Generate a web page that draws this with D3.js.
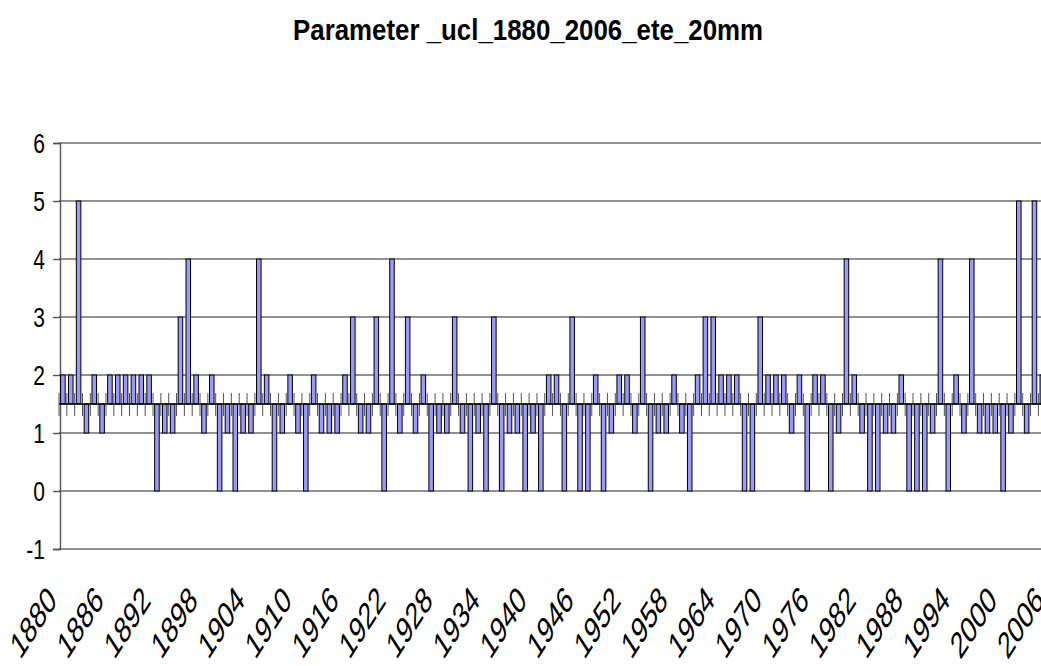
<!DOCTYPE html>
<html><head><meta charset="utf-8">
<script src="https://cdn.jsdelivr.net/npm/d3@7"></script>
<style>
html,body{margin:0;padding:0;background:#fff;overflow:hidden}
svg{display:block}
text{font-family:"Liberation Sans",Arial,sans-serif;fill:#000}
</style></head><body>
<svg id="c" width="1041" height="666"></svg>
<script>
const chartTitle = "Parameter _ucl_1880_2006_ete_20mm";
const years = d3.range(1880, 2007);
const values = [
 2,2,5,1,2,1,2,2,2,2,2,2,0,1,1,3,4,2,1,2,
 0,1,0,1,1,4,2,0,1,2,1,0,2,1,1,1,2,3,1,1,
 3,0,4,1,3,1,2,0,1,1,3,1,0,1,0,3,0,1,1,0,
 1,0,2,2,0,3,0,0,2,0,1,2,2,1,3,0,1,1,2,1,
 0,2,3,3,2,2,2,0,0,3,2,2,2,1,2,0,2,2,0,1,
 4,2,1,0,0,1,1,2,0,0,0,1,4,0,2,1,4,1,1,1,
 0,1,5,1,5,2,1
];
const yTicks = [-1,0,1,2,3,4,5,6];
const xLabelYears = years.filter(y => (y - 1880) % 6 === 0);
const baseValue = 1.5;

const svg = d3.select("#c");
const W = 1041, H = 666;
const left = 59, step = 7.835;
const right = left + step * years.length;
const yTop = 143, yBot = 549;
const S = 1.3;   // vertical stretch of the original picture
const SX = 1.55; // stretch used for the rotated labels

const x = d3.scaleBand().domain(years).range([left, right]).paddingInner(0.42).paddingOuter(0.21);
const y = d3.scaleLinear().domain([-1, 6]).range([yBot, yTop]);

// gridlines
svg.append("g").selectAll("line").data(yTicks).join("line")
  .attr("x1", left).attr("x2", W + 20)
  .attr("y1", d => y(d)).attr("y2", d => y(d))
  .attr("stroke", "#6e6e6e").attr("stroke-width", 1.5);

// y axis
const yAxis = d3.axisLeft(y).tickValues(yTicks).tickSize(7).tickFormat(d3.format("d"));
const ga = svg.append("g").attr("transform", `translate(${left + 1},0)`).call(yAxis);
ga.select(".domain").attr("stroke", "#555").attr("stroke-width", 1.4);
ga.selectAll(".tick line").attr("stroke", "#555").attr("stroke-width", 1.4);
ga.selectAll(".tick text").remove();
svg.append("g").selectAll("text").data(yTicks).join("text")
  .attr("transform", d => `translate(45,${y(d) + 10}) scale(1,${S})`)
  .attr("text-anchor", "end").attr("font-size", 21)
  .text(d => d);

// bars
svg.append("g").selectAll("rect").data(values.map((v, i) => ({year: years[i], v}))).join("rect")
  .attr("x", d => x(d.year))
  .attr("width", x.bandwidth())
  .attr("y", d => Math.min(y(d.v), y(baseValue)))
  .attr("height", d => Math.abs(y(d.v) - y(baseValue)))
  .attr("fill", "#9999ff").attr("stroke", "#000").attr("stroke-width", 1);

// base axis at 1.5 with crossing ticks at category boundaries
const yb = y(baseValue);
svg.append("g").selectAll("line").data(d3.range(years.length + 1)).join("line")
  .attr("x1", k => left + k * step).attr("x2", k => left + k * step)
  .attr("y1", yb - 11).attr("y2", yb + 12)
  .attr("stroke", "#555").attr("stroke-width", 1);
svg.append("line").attr("x1", left).attr("x2", W + 20).attr("y1", yb).attr("y2", yb)
  .attr("stroke", "#000").attr("stroke-width", 1.4);

// x labels
svg.append("g").selectAll("text").data(xLabelYears).join("text")
  .attr("transform", d => `translate(${x(d) + x.bandwidth() / 2 - 5},${602}) scale(1,${SX}) rotate(-45)`)
  .attr("text-anchor", "end").attr("font-size", 24)
  .text(d => d);

// title
svg.append("text")
  .attr("transform", `translate(528,40) scale(1,${S})`)
  .attr("text-anchor", "middle").attr("font-size", 22).attr("font-weight", "bold")
  .attr("textLength", 470).attr("lengthAdjust", "spacingAndGlyphs")
  .text(chartTitle);
</script>
</body></html>
